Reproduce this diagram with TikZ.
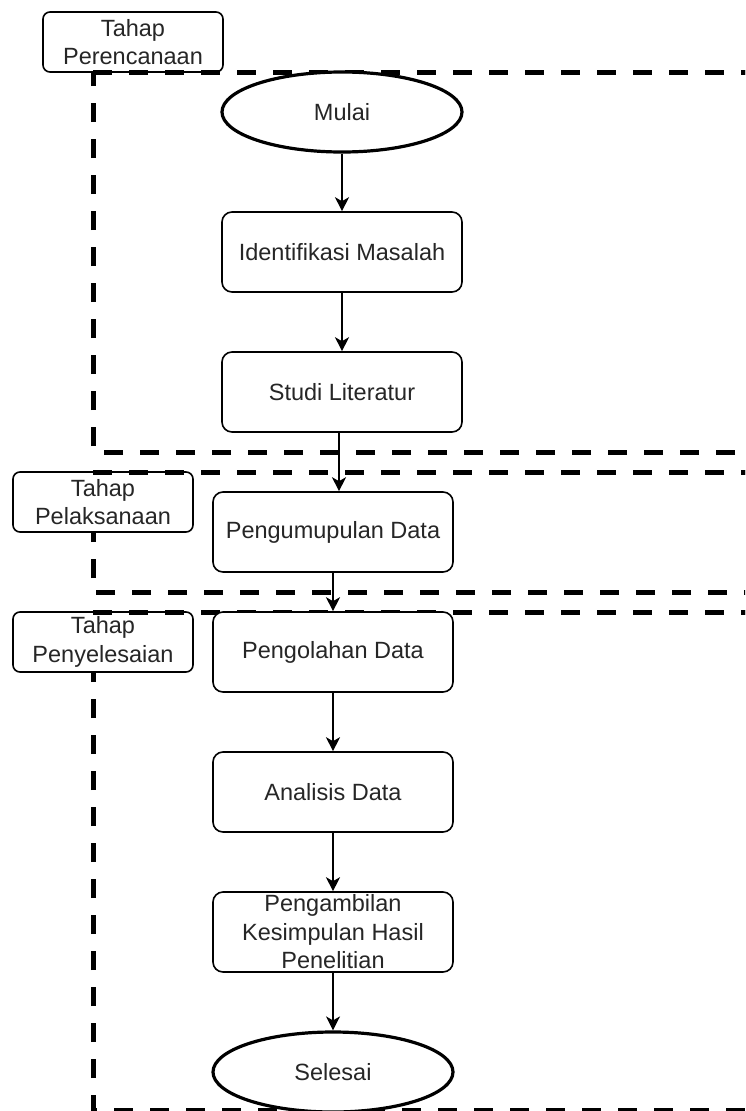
\documentclass[tikz,border=0pt]{standalone}
\usepackage{fontspec}
\setmainfont{Liberation Sans}
\usetikzlibrary{arrows.meta,shapes.geometric}
\begin{document}
\begin{tikzpicture}[x=1pt,y=-1pt,
  every node/.style={font=\fontsize{23.5}{28.5}\selectfont, align=center, inner sep=0pt, text=black!85},
  proc/.style={draw, line width=1.6pt, rounded corners=10pt, fill=white, minimum width=240pt, minimum height=80pt},
  term/.style={draw, ellipse, line width=3.2pt, fill=white, minimum width=240pt, minimum height=80pt},
  phase/.style={draw, line width=1.6pt, rounded corners=7pt, fill=white, minimum width=180pt, minimum height=60pt},
  zone/.style={draw, line width=5pt, dash pattern=on 19pt off 17pt},
  flow/.style={-{Stealth[length=14pt,width=14pt,inset=4pt]}, line width=1.6pt}]
\clip (0,0) rectangle (745,1111);
\fill[white] (0,0) rectangle (745,1111);
% phase zones
\draw[zone] (93,72) -- (800,72) -- (800,452) -- (93,452) -- cycle;
\draw[zone] (93,472) -- (800,472) -- (800,592) -- (93,592) -- cycle;
\draw[zone] (93,612) -- (800,612) -- (800,1110) -- (93,1110) -- cycle;
% phase labels
\node[phase] (p1) at (133,42) {Tahap\\Perencanaan};
\node[phase] (p2) at (103,502) {Tahap\\Pelaksanaan};
\node[phase] (p3) at (103,642) {Tahap\\Penyelesaian};
% zone top edges over labels
\draw[zone] (93,72) -- (800,72);
\draw[zone] (93,472) -- (800,472);
\draw[zone] (93,612) -- (800,612);
% flow nodes
\node[term] (mulai) at (342,112) {Mulai};
\node[proc] (ident) at (342,252) {Identifikasi Masalah};
\node[proc] (studi) at (342,392) {Studi Literatur};
\node[proc] (kumpul) at (333,532) {Pengumupulan Data};
\node[proc] (olah) at (333,652) {Pengolahan Data};
\node[proc] (anal) at (333,792) {Analisis Data};
\node[proc] (simpul) at (333,932) {Pengambilan\\Kesimpulan Hasil\\Penelitian};
\node[term] (selesai) at (333,1072) {Selesai};
% connectors
\draw[flow] (mulai) -- (ident);
\draw[flow] (ident) -- (studi);
\draw[flow] ([xshift=-3pt]studi.south) -- ([xshift=-3pt]studi.south |- kumpul.north);
\draw[flow] (kumpul) -- (olah);
\draw[flow] (olah) -- (anal);
\draw[flow] (anal) -- (simpul);
\draw[flow] (simpul) -- (selesai);
\end{tikzpicture}
\end{document}
